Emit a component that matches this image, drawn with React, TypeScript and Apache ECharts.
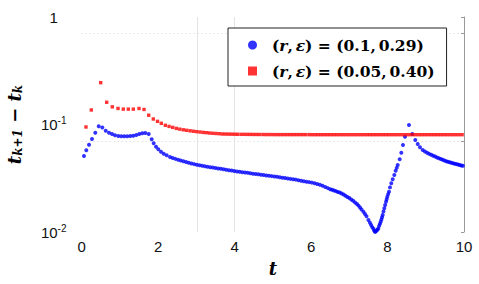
import React, { useEffect, useRef } from "react";
import * as echarts from "echarts";

// ---- data (t_k, t_{k+1} - t_k) ----
const xTickInterval = 2;
const xRange = [0, 10];
const yRange = [0.01, 1];
// the reference's dotted grid / right-edge ticks sit on a log scale shifted from the labelled one
const gridScaleRange = [0.01424, 1.424];
const verticalRefLines = [3.03, 4];

const legendLabels = [
  { r: "0.1", eps: "0.29" },
  { r: "0.05", eps: "0.40" },
];
const seriesNames = legendLabels.map((l) => `(r, ε) = (${l.r}, ${l.eps})`);

const blueEarly: [number, number][] = [
  [0.06, 0.0509], [0.12, 0.0575], [0.191, 0.0649], [0.269, 0.0733], [0.356, 0.0839],
  [0.445, 0.0962], [0.539, 0.0938], [0.628, 0.0876], [0.714, 0.0839], [0.793, 0.0816],
  [0.871, 0.0794], [0.957, 0.0782], [1.036, 0.0777], [1.114, 0.0777], [1.193, 0.0777],
  [1.271, 0.0782], [1.35, 0.0787], [1.428, 0.0799], [1.507, 0.0816], [1.585, 0.0828],
  [1.664, 0.0834], [1.753, 0.0816], [1.831, 0.0728], [1.883, 0.0669], [1.944, 0.0621],
  [2.004, 0.0588], [2.074, 0.0558], [2.145, 0.0535], [2.223, 0.0517], [2.31, 0.0498],
];

const blueMiddle: [number, number][] = [
  [2.38, 0.0488], [2.45, 0.0479], [2.52, 0.047], [2.59, 0.0462], [2.66, 0.0455],
  [2.73, 0.0447], [2.8, 0.0441], [2.87, 0.0434], [2.94, 0.0428], [3.01, 0.0422],
  [3.08, 0.0418], [3.15, 0.0413], [3.22, 0.0409], [3.29, 0.0405], [3.36, 0.0401],
  [3.43, 0.0398], [3.5, 0.0394], [3.57, 0.039], [3.64, 0.0387], [3.71, 0.0383],
  [3.78, 0.038], [3.85, 0.0376], [3.92, 0.0373], [3.99, 0.0369], [4.06, 0.0366],
  [4.13, 0.0363], [4.2, 0.036], [4.27, 0.0357], [4.34, 0.0355], [4.41, 0.0352],
  [4.48, 0.0349], [4.55, 0.0346], [4.62, 0.0344], [4.69, 0.0341], [4.76, 0.0339],
  [4.83, 0.0336], [4.9, 0.0334], [4.97, 0.0331], [5.04, 0.0328], [5.11, 0.0326],
  [5.18, 0.0323], [5.25, 0.032], [5.32, 0.0318], [5.39, 0.0315], [5.46, 0.0312],
  [5.53, 0.031], [5.6, 0.0307], [5.67, 0.0303], [5.74, 0.03], [5.81, 0.0297],
  [5.88, 0.0294], [5.95, 0.0291], [6.02, 0.0288], [6.09, 0.0284], [6.16, 0.0279],
  [6.23, 0.0275], [6.3, 0.0269], [6.37, 0.0262], [6.44, 0.0256], [6.5, 0.025],
  [6.55, 0.0247], [6.6, 0.0243], [6.65, 0.024], [6.7, 0.0236], [6.75, 0.0233],
  [6.8, 0.0228], [6.85, 0.0223], [6.9, 0.0217], [6.95, 0.0212], [7.0, 0.0207],
  [7.05, 0.0201], [7.1, 0.0195], [7.15, 0.0188], [7.2, 0.0182], [7.24, 0.0176],
  [7.28, 0.0169], [7.32, 0.0162], [7.37, 0.01545], [7.41, 0.0147], [7.45, 0.014],
  [7.5, 0.01293], [7.54, 0.0122], [7.57, 0.0116], [7.6, 0.0111], [7.63, 0.0107],
  [7.65, 0.0103], [7.67, 0.01006],
];

const blueRise: [number, number][] = [
  [7.69, 0.0101], [7.71, 0.0103], [7.735, 0.0105], [7.758, 0.0108], [7.78, 0.0114],
  [7.8, 0.0119], [7.821, 0.01247], [7.84, 0.0131], [7.856, 0.0137], [7.873, 0.01439],
  [7.894, 0.0155], [7.915, 0.01662], [7.937, 0.0178], [7.96, 0.01914], [7.977, 0.0202],
  [7.994, 0.0213], [8.016, 0.0225], [8.038, 0.0237], [8.064, 0.026], [8.098, 0.0284],
  [8.135, 0.0309], [8.177, 0.0339], [8.213, 0.0372], [8.24, 0.0395], [8.266, 0.042],
  [8.318, 0.0475], [8.36, 0.0547], [8.404, 0.0645], [8.457, 0.077], [8.561, 0.0989],
];

const blueTail: [number, number][] = [
  [8.648, 0.0816], [8.726, 0.0717], [8.789, 0.0659], [8.849, 0.0614], [8.92, 0.0579],
  [8.978, 0.056], [9.034, 0.0545], [9.089, 0.0533], [9.142, 0.0522], [9.194, 0.0512],
  [9.245, 0.0503], [9.295, 0.0494], [9.344, 0.0485], [9.393, 0.0477], [9.441, 0.0469],
  [9.488, 0.0462], [9.534, 0.0456], [9.58, 0.0451], [9.625, 0.0446], [9.67, 0.0441],
  [9.714, 0.0436], [9.758, 0.0432], [9.801, 0.0428], [9.844, 0.0424], [9.886, 0.042],
  [9.928, 0.0416], [9.97, 0.0413],
];

const redEarly: [number, number][] = [
  [0.112, 0.0948], [0.251, 0.1365], [0.497, 0.245], [0.654, 0.161], [0.8, 0.146],
  [0.95, 0.141], [1.088, 0.139], [1.219, 0.139], [1.35, 0.139], [1.499, 0.141],
  [1.63, 0.138], [1.753, 0.122], [1.873, 0.1125], [1.983, 0.107], [2.082, 0.1026],
  [2.187, 0.0983], [2.285, 0.096], [2.381, 0.094], [2.475, 0.092], [2.567, 0.0905],
  [2.658, 0.0893], [2.747, 0.0883], [2.835, 0.0874], [2.922, 0.0865], [3.009, 0.0858],
  [3.095, 0.0851], [3.18, 0.0844], [3.264, 0.0839], [3.348, 0.0833], [3.431, 0.0828],
  [3.514, 0.0825], [3.597, 0.0821],
];

const redPlateau: [number, number][] = [
  [3.68, 0.0816], [3.76, 0.0815], [3.84, 0.0814], [3.92, 0.0813], [4.0, 0.0812],
  [4.08, 0.0811], [4.17, 0.081], [4.25, 0.081], [4.33, 0.0809], [4.41, 0.0809],
  [4.49, 0.0808], [4.57, 0.0808], [4.65, 0.0807], [4.74, 0.0807], [4.82, 0.0806],
  [4.9, 0.0806], [4.98, 0.0806], [5.06, 0.0805], [5.14, 0.0805], [5.22, 0.0805],
  [5.3, 0.0805], [5.38, 0.0805], [5.46, 0.0805], [5.54, 0.0805], [5.62, 0.0805],
  [5.7, 0.0805], [5.78, 0.0805], [5.86, 0.0805], [5.95, 0.0805], [6.03, 0.0804],
  [6.11, 0.0804], [6.19, 0.0804], [6.27, 0.0804], [6.35, 0.0804], [6.43, 0.0804],
  [6.51, 0.0804], [6.59, 0.0804], [6.67, 0.0804], [6.75, 0.0804], [6.83, 0.0804],
  [6.91, 0.0804], [6.99, 0.0804], [7.07, 0.0804], [7.15, 0.0804], [7.23, 0.0804],
  [7.31, 0.0804], [7.39, 0.0804], [7.47, 0.0804], [7.55, 0.0804], [7.63, 0.0804],
  [7.71, 0.0804], [7.79, 0.0804], [7.87, 0.0804], [7.95, 0.0804], [8.03, 0.0804],
  [8.11, 0.0804], [8.19, 0.0804], [8.27, 0.0804], [8.35, 0.0804], [8.43, 0.0804],
  [8.51, 0.0804], [8.59, 0.0804], [8.67, 0.0804], [8.75, 0.0804], [8.83, 0.0804],
  [8.91, 0.0804], [8.99, 0.0804], [9.07, 0.0804], [9.15, 0.0804], [9.23, 0.0804],
  [9.31, 0.0804], [9.39, 0.0804], [9.47, 0.0804], [9.55, 0.0804], [9.63, 0.0804],
  [9.71, 0.0804], [9.79, 0.0804], [9.87, 0.0804], [9.95, 0.0804],
];

const blueData = [...blueEarly, ...blueMiddle, ...blueRise, ...blueTail];
const redData = [...redEarly, ...redPlateau];

const serif = "DejaVu Serif";
const sans = "Liberation Sans";

export default function App() {
  const ref = useRef<HTMLDivElement>(null);

  useEffect(() => {
    if (!ref.current) return;
    const chart = echarts.init(ref.current, undefined, { renderer: "svg" });

    const lf = 15.5;
    const legendText = {
      p: { fontFamily: serif, fontWeight: "bold", fontSize: lf, lineHeight: 20, color: "#000", padding: [0, 0, 0, 10] },
      n: { fontFamily: serif, fontWeight: "bold", fontSize: lf, lineHeight: 20, color: "#000" },
      th: { fontFamily: serif, fontWeight: "bold", fontSize: 8, lineHeight: 20, color: "#000" },
      i: { fontFamily: serif, fontWeight: "bold", fontStyle: "italic", fontSize: lf, lineHeight: 20, color: "#000" },
    };

    chart.setOption({
      animation: false,
      backgroundColor: "#fff",
      grid: {
        left: 81.7,
        right: 15,
        top: 17,
        bottom: 52,
        containLabel: false,
        outerBoundsMode: "none",
      },
      legend: {
        orient: "vertical",
        left: 228,
        top: 28,
        padding: [7, 12, 5, 20],
        itemGap: 6,
        itemWidth: 9,
        itemHeight: 9,
        selectedMode: false,
        backgroundColor: "#fff",
        borderColor: "#222",
        borderWidth: 1,
        borderRadius: 0,
        data: [
          { name: seriesNames[0], icon: "circle" },
          { name: seriesNames[1], icon: "rect" },
        ],
        formatter: (name: string) => {
          const l = legendLabels[seriesNames.indexOf(name)];
          return `{p|(}{i|r}{n|,}{th| }{i|ε}{n|) = (${l.r},}{th| }{n|${l.eps})}`;
        },
        textStyle: { fontSize: lf, lineHeight: 20, rich: legendText },
      },
      xAxis: {
        type: "value",
        min: xRange[0],
        max: xRange[1],
        interval: xTickInterval,
        axisLine: { show: false },
        axisTick: { show: false },
        splitLine: { show: false },
        axisLabel: { fontFamily: sans, fontSize: 15, color: "#111", margin: 7 },
        name: "t",
        nameLocation: "middle",
        nameGap: 27,
        nameTextStyle: {
          fontFamily: serif,
          fontWeight: "bold",
          fontStyle: "italic",
          fontSize: 18,
          color: "#000",
        },
      },
      yAxis: [
        {
          type: "log",
          logBase: 10,
          min: yRange[0],
          max: yRange[1],
          axisLine: { show: false },
          axisTick: { show: false },
          splitLine: { show: false },
          axisLabel: {
            align: "center",
            margin: 28,
            formatter: (v: number) => {
              const e = Math.round(Math.log10(v));
              if (e === 0) return "{m|1}";
              return `{m|10}{s|${e}}`;
            },
            rich: {
              m: { fontFamily: sans, fontSize: 15, lineHeight: 18, color: "#111" },
              s: { fontFamily: sans, fontSize: 10, lineHeight: 10, verticalAlign: "top", color: "#111" },
            },
          },
          name: "{t|t}{s|k+1}{m| − }{t|t}{s|k}",
          nameLocation: "middle",
          nameRotate: 90,
          nameGap: 58,
          nameTextStyle: {
            rich: {
              t: { fontFamily: serif, fontWeight: "bold", fontStyle: "italic", fontSize: 18, lineHeight: 18, color: "#000" },
              s: { fontFamily: serif, fontWeight: "bold", fontStyle: "italic", fontSize: 12, lineHeight: 8, verticalAlign: "bottom", color: "#000" },
              m: { fontFamily: serif, fontWeight: "bold", fontSize: 18, lineHeight: 18, color: "#000" },
            },
          },
        },
        {
          type: "log",
          logBase: 10,
          position: "right",
          min: gridScaleRange[0],
          max: gridScaleRange[1],
          axisLine: { show: true, lineStyle: { color: "#999", width: 1 } },
          axisTick: { show: true, inside: true, length: 3, lineStyle: { color: "#999" } },
          axisLabel: { show: false },
          splitLine: {
            show: true,
            showMinLine: false,
            showMaxLine: false,
            lineStyle: { color: "#d6d6d6", width: 1, type: [1, 3] },
          },
        },
      ],
      series: [
        {
          type: "line",
          name: "__refLines",
          data: [],
          z: 1,
          silent: true,
          markLine: {
            silent: true,
            z: 1,
            symbol: ["none", "none"],
            label: { show: false },
            lineStyle: { color: "#e4e4e4", type: "solid", width: 1 },
            emphasis: { disabled: true },
            data: verticalRefLines.map((x) => ({ xAxis: x })),
          },
        },
        {
          type: "scatter",
          name: seriesNames[0],
          data: blueData,
          symbol: "circle",
          symbolSize: 4,
          itemStyle: { color: "#0000ff" },
          z: 3,
          silent: true,
        },
        {
          type: "scatter",
          name: seriesNames[1],
          data: redData,
          symbol: "rect",
          symbolSize: 3.4,
          itemStyle: { color: "#ff0000" },
          z: 3,
          silent: true,
        },
      ],
    });

    return () => chart.dispose();
  }, []);

  return (
    <div
      ref={ref}
      style={{ position: "fixed", left: 0, top: 0, width: 479, height: 284 }}
    />
  );
}
